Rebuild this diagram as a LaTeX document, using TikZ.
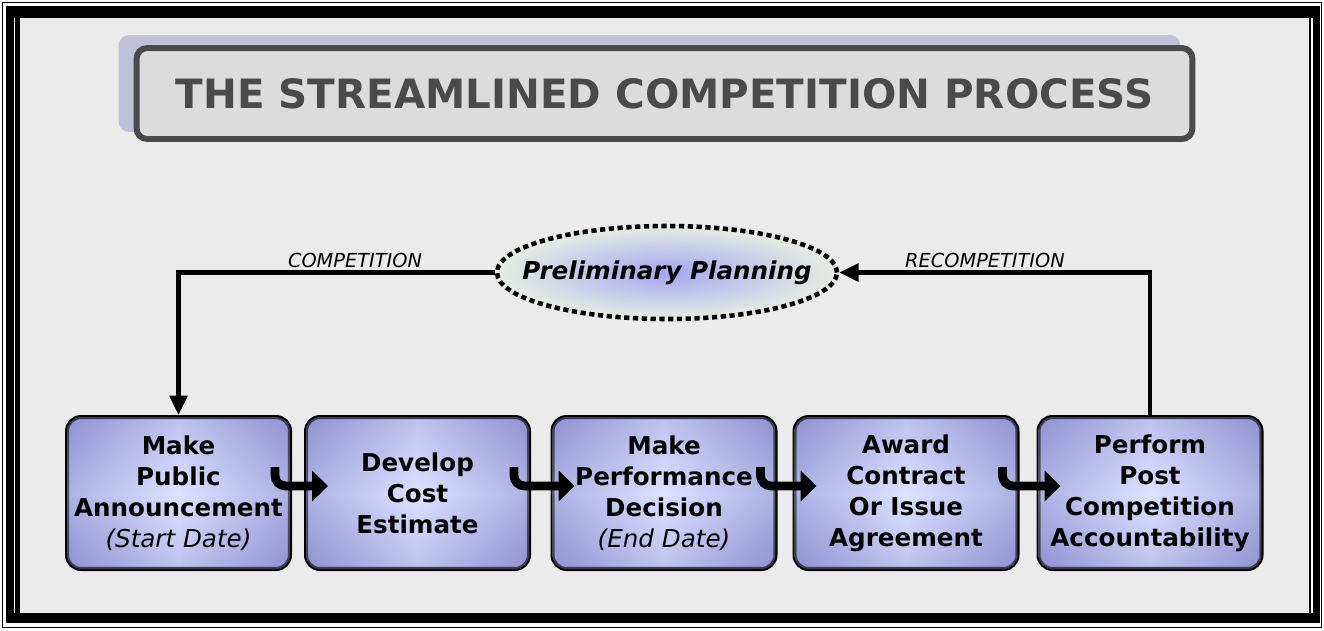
\documentclass[tikz,border=0pt]{standalone}
\usepackage{fontspec}
\setmainfont{DejaVu Sans}
\usetikzlibrary{arrows.meta,calc,shapes.geometric}
\definecolor{bgrey}{HTML}{EBEBEB}
\definecolor{tgrey}{HTML}{4A4A4A}
\definecolor{tfill}{HTML}{DCDCDC}
\definecolor{tshadow}{HTML}{C0C1D8}
\definecolor{boxedge}{HTML}{9092D2}
\definecolor{boxmid}{HTML}{DCE3FF}
\definecolor{planin}{HTML}{A3A7F0}
\definecolor{planout}{HTML}{E6EDE2}
\begin{document}
\begin{tikzpicture}[x=0.02cm, y=-0.02cm,
    stepbox/.style={draw, line width=2.3pt, rounded corners=8pt, inner sep=0pt,
      minimum width=4.46cm, minimum height=3.04cm, align=center,
      left color=boxedge, right color=boxedge, middle color=boxmid,
      postaction={top color=boxedge, bottom color=boxedge, middle color=boxmid, fill opacity=0.4},
      font=\fontsize{14}{17.6}\selectfont\bfseries},
    flowarrow/.style={line width=5pt, rounded corners=6pt, -{Triangle[length=9pt,width=17pt]}},
    backline/.style={line width=2.3pt, -{Triangle[length=11pt,width=10pt]}},
    lbl/.style={font=\fontsize{11}{13}\selectfont\itshape}]
      \useasboundingbox (0,0) rectangle (1324,630);
      \fill[white] (0,0) rectangle (1324,630);
      \draw[line width=0.6pt] (2.5,2.5) rectangle (1321.5,627.5);
      \fill[black] (6,6) rectangle (1320,623);
      \fill[bgrey] (20,18) rectangle (1309,613);
      \draw[white, line width=0.8pt] (14.5,18) -- (14.5,613);
      \draw[white, line width=0.8pt] (1312,18) -- (1312,613);
      \node[fill=tshadow, rounded corners=6pt, minimum width=21.24cm, minimum height=1.94cm] (tshad) at (649.5,83.5) {};
      \node[draw=tgrey, line width=3.4pt, fill=tfill, rounded corners=6pt, minimum width=21.12cm, minimum height=1.82cm,
        text=tgrey, font=\fontsize{23}{28}\selectfont\bfseries] (title) at (664.5,93.5) {THE STREAMLINED COMPETITION PROCESS};
      \node[ellipse, draw, line width=2.6pt, dash pattern=on 3pt off 2pt, inner sep=0pt,
        minimum width=6.8cm, minimum height=1.86cm, inner color=planin, outer color=planout,
        label={[font=\fontsize{14}{17}\selectfont\bfseries\itshape]center:Preliminary Planning}] (plan) at (667,272.5) {};
      \node[stepbox] (b1) at (178.5,493) {Make\\Public\\Announcement\\{\mdseries\itshape (Start Date)}};
      \node[stepbox] (b2) at (417.5,493) {Develop\\Cost\\Estimate};
      \node[stepbox] (b3) at (664,493) {Make\\Performance\\Decision\\{\mdseries\itshape (End Date)}};
      \node[stepbox] (b4) at (906,493) {Award\\Contract\\Or Issue\\Agreement};
      \node[stepbox] (b5) at (1150,493) {Perform\\Post\\Competition\\Accountability};
      \foreach \a/\b in {b1/b2,b2/b3,b3/b4,b4/b5}
        \draw[flowarrow] ($(\a.east)+(-17,-26)$) |- ($(\b.west)+(24,-7)$);
      \draw[backline] (plan.west) -| (b1.north);
      \draw[backline] (b5.north) |- (plan.east);
      \node[lbl, anchor=base] (lcomp) at (355,267) {COMPETITION};
      \node[lbl, anchor=base] (lrecomp) at (985,267) {RECOMPETITION};
    \end{tikzpicture}
\end{document}
